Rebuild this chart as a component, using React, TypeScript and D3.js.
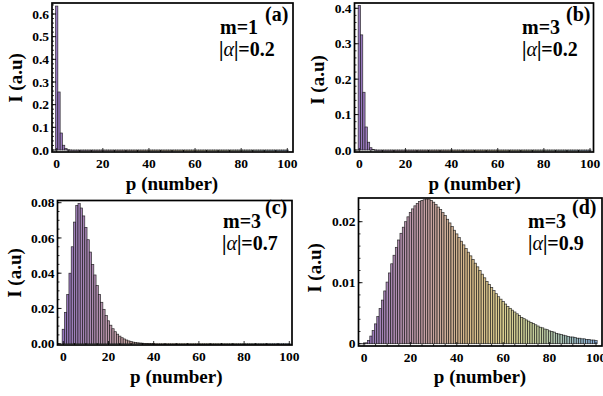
import * as d3 from "d3";

// photon number axis
const pValues = d3.range(0, 101);

// I(p); entries not listed are zero
const valuesA = [0.635, 0.256, 0.075, 0.021, 0.006, 0.0015, 0.0004];
const valuesB = [0.408, 0.325, 0.163, 0.065, 0.022, 0.0065, 0.0018, 0.0005];
const valuesC = [
  0.0082, 0.0178, 0.028, 0.04, 0.055, 0.069, 0.0785, 0.0795, 0.077, 0.0725,
  0.066, 0.059, 0.052, 0.045, 0.039, 0.033, 0.028, 0.0235, 0.0195, 0.016,
  0.013, 0.0105, 0.0085, 0.0068, 0.0054, 0.0043, 0.0034, 0.0027, 0.0021, 0.0016,
  0.0012, 0.0009, 0.0007, 0.0005, 0.0004, 0.0003, 0.0002, 0.00015, 0.0001, 0.00008,
  0.00006,
];
const valuesD = [
  0.00005, 0.00015, 0.00055, 0.00125, 0.00215, 0.00325, 0.00445, 0.00575, 0.00715, 0.00865,
  0.0101, 0.0116, 0.0131, 0.0145, 0.0158, 0.017, 0.0181, 0.0191, 0.02, 0.0208,
  0.0215, 0.0221, 0.0226, 0.023, 0.0233, 0.0235, 0.0236, 0.0237, 0.0237, 0.0235,
  0.0232, 0.0228, 0.0224, 0.022, 0.0215, 0.021, 0.0204, 0.0198, 0.0192, 0.0186,
  0.018, 0.0174, 0.0168, 0.0162, 0.0156, 0.015, 0.0144, 0.0138, 0.0132, 0.0126,
  0.012, 0.0114, 0.0108, 0.0102, 0.0097, 0.0092, 0.0087, 0.0082, 0.0077, 0.0073,
  0.0069, 0.0065, 0.0061, 0.0058, 0.0055, 0.0052, 0.0049, 0.0046, 0.0043, 0.0041,
  0.0039, 0.0037, 0.0035, 0.0033, 0.0031, 0.0029, 0.0027, 0.0026, 0.0024, 0.0023,
  0.0021, 0.002, 0.0019, 0.0017, 0.0016, 0.0015, 0.0014, 0.0013, 0.0012, 0.0011,
  0.0011, 0.001, 0.0009, 0.0009, 0.0008, 0.0008, 0.0007, 0.0007, 0.0006, 0.0006,
  0.0005,
];

const xTicks = [0, 20, 40, 60, 80, 100];
const yTicksA = [0, 0.1, 0.2, 0.3, 0.4, 0.5, 0.6];
const yTicksB = [0, 0.1, 0.2, 0.3, 0.4];
const yTicksC = [0, 0.02, 0.04, 0.06, 0.08];
const yTicksD = [0, 0.01, 0.02];

const panelLabels = ["(a)", "(b)", "(c)", "(d)"];
const mLabels = ["m=1", "m=3", "m=3", "m=3"];
const alphaLabels = ["0.2", "0.2", "0.7", "0.9"];

const FONT = "'Liberation Serif', 'Times New Roman', 'DejaVu Serif', serif";

const barColor = d3
  .scaleLinear<string>()
  .domain([0, 25, 45, 60, 75, 88, 100])
  .range(["#9677c0", "#c49ea6", "#d8bb8a", "#dccf90", "#c5d09e", "#a3c2bd", "#8ab2e0"]);

type PanelProps = {
  values: number[];
  yTicks: number[];
  yFmt: (v: number) => string;
  yMinorStep: number;
  frame: { left: number; right: number; top: number; bottom: number };
  x0: number; // pixel of p=0
  x100: number; // pixel of p=100
  y0: number; // pixel of I=0
  yRef: [number, number]; // value and pixel of a reference tick
  label: string;
  m: string;
  alpha: string;
  text: { mx: number; my: number; lx: number; ly: number; ax: number; ay: number };
  yLabel: [number, number];
  xLabelY: number;
};

function Panel(props: PanelProps) {
  const { values, yTicks, yFmt, yMinorStep, frame, x0, x100, y0, yRef, text } = props;
  const x = d3.scaleLinear().domain([0, 100]).range([x0, x100]);
  const y = d3.scaleLinear().domain([0, yRef[0]]).range([y0, yRef[1]]);
  const yTop = y.invert(frame.top);
  const minorY = d3.range(0, yTop, yMinorStep);
  const minorX = d3.range(0, 101, 5);
  const clipId = "clip" + props.label.replace(/\W/g, "");

  return (
    <g>
      <clipPath id={clipId}>
        <rect x={frame.left} y={frame.top} width={frame.right - frame.left} height={frame.bottom - frame.top} />
      </clipPath>
      <g clipPath={`url(#${clipId})`}>
        {pValues.map((p) => {
          const v = values[p] ?? 0;
          return (
            <rect
              key={p}
              x={x(p - 0.5)}
              width={x(p + 0.5) - x(p - 0.5)}
              y={y(v)}
              height={Math.max(0.6, y(0) - y(v))}
              fill={barColor(p)}
              stroke="#111"
              strokeOpacity={0.85}
              strokeWidth={0.7}
            />
          );
        })}
        {minorX.map((t) => (
          <line key={"mx" + t} x1={x(t)} x2={x(t)} y1={frame.bottom} y2={frame.bottom - (t % 20 === 0 ? 4 : 2)} stroke="#000" strokeWidth={0.8} />
        ))}
        {minorY.map((t, i) => (
          <line key={"my" + i} x1={frame.left} x2={frame.left + 2} y1={y(t)} y2={y(t)} stroke="#000" strokeWidth={0.8} />
        ))}
        {yTicks.map((t) => (
          <line key={"My" + t} x1={frame.left} x2={frame.left + 4} y1={y(t)} y2={y(t)} stroke="#000" strokeWidth={0.9} />
        ))}
      </g>
      <rect
        x={frame.left}
        y={frame.top}
        width={frame.right - frame.left}
        height={frame.bottom - frame.top}
        fill="none"
        stroke="#000"
        strokeWidth={1.7}
      />
      <g fontFamily={FONT} fontWeight="bold" fontSize={13.5}>
        {yTicks.map((t) => (
          <text key={t} x={frame.left - 3} y={y(t)} dy="0.35em" textAnchor="end">
            {yFmt(t)}
          </text>
        ))}
        {xTicks.map((t) => (
          <text key={t} x={x(t)} y={frame.bottom + 16} textAnchor="middle">
            {t}
          </text>
        ))}
      </g>
      <g fontFamily={FONT} fontWeight="bold" fontSize={19}>
        <text x={(x0 + x100) / 2} y={props.xLabelY} textAnchor="middle">
          p (number)
        </text>
        <text
          transform={`translate(${props.yLabel[0]},${props.yLabel[1]}) rotate(-90)`}
          textAnchor="middle"
          dy="0.35em"
        >
          I (a.u)
        </text>
      </g>
      <g fontFamily={FONT} fontWeight="bold" fontSize={20}>
        <text x={text.lx} y={text.ly}>
          {props.label}
        </text>
        <text x={text.mx} y={text.my}>
          {props.m}
        </text>
        <text x={text.ax} y={text.ay}>
          |<tspan fontStyle="italic" fontWeight="normal">α</tspan>|={props.alpha}
        </text>
      </g>
    </g>
  );
}

export default function App() {
  const fmt1 = d3.format(".1f");
  const fmt2 = d3.format(".2f");
  const fmtD = (v: number) => (v === 0 ? "0" : d3.format(".2f")(v));
  return (
    <svg width={603} height={396} style={{ position: "absolute", left: 0, top: 0, background: "#fff" }}>
      <Panel
        values={valuesA}
        yTicks={yTicksA}
        yFmt={fmt1}
        yMinorStep={0.02}
        frame={{ left: 52, right: 293, top: 3, bottom: 152 }}
        x0={56.7}
        x100={287.3}
        y0={150}
        yRef={[0.6, 14]}
        label={panelLabels[0]}
        m={mLabels[0]}
        alpha={alphaLabels[0]}
        text={{ mx: 220, my: 34, lx: 265, ly: 21, ax: 219, ay: 56 }}
        yLabel={[15, 78]}
        xLabelY={190}
      />
      <Panel
        values={valuesB}
        yTicks={yTicksB}
        yFmt={fmt1}
        yMinorStep={0.02}
        frame={{ left: 354.5, right: 593.5, top: 3, bottom: 152 }}
        x0={359.3}
        x100={590}
        y0={150}
        yRef={[0.4, 8.3]}
        label={panelLabels[1]}
        m={mLabels[1]}
        alpha={alphaLabels[1]}
        text={{ mx: 522, my: 34, lx: 566, ly: 21, ax: 522, ay: 56 }}
        yLabel={[317, 80]}
        xLabelY={190}
      />
      <Panel
        values={valuesC}
        yTicks={yTicksC}
        yFmt={fmt2}
        yMinorStep={0.005}
        frame={{ left: 57.5, right: 292, top: 200.5, bottom: 345 }}
        x0={63.3}
        x100={289.3}
        y0={343.7}
        yRef={[0.08, 202.7]}
        label={panelLabels[2]}
        m={mLabels[2]}
        alpha={alphaLabels[2]}
        text={{ mx: 223, my: 228, lx: 265, ly: 214, ax: 222, ay: 250 }}
        yLabel={[14, 273]}
        xLabelY={383}
      />
      <Panel
        values={valuesD}
        yTicks={yTicksD}
        yFmt={fmtD}
        yMinorStep={0.002}
        frame={{ left: 358.5, right: 602, top: 198, bottom: 346 }}
        x0={364}
        x100={596}
        y0={343.7}
        yRef={[0.02, 221.7]}
        label={panelLabels[3]}
        m={mLabels[3]}
        alpha={alphaLabels[3]}
        text={{ mx: 528, my: 228, lx: 572, ly: 214, ax: 528, ay: 250 }}
        yLabel={[314, 268]}
        xLabelY={383}
      />
    </svg>
  );
}
